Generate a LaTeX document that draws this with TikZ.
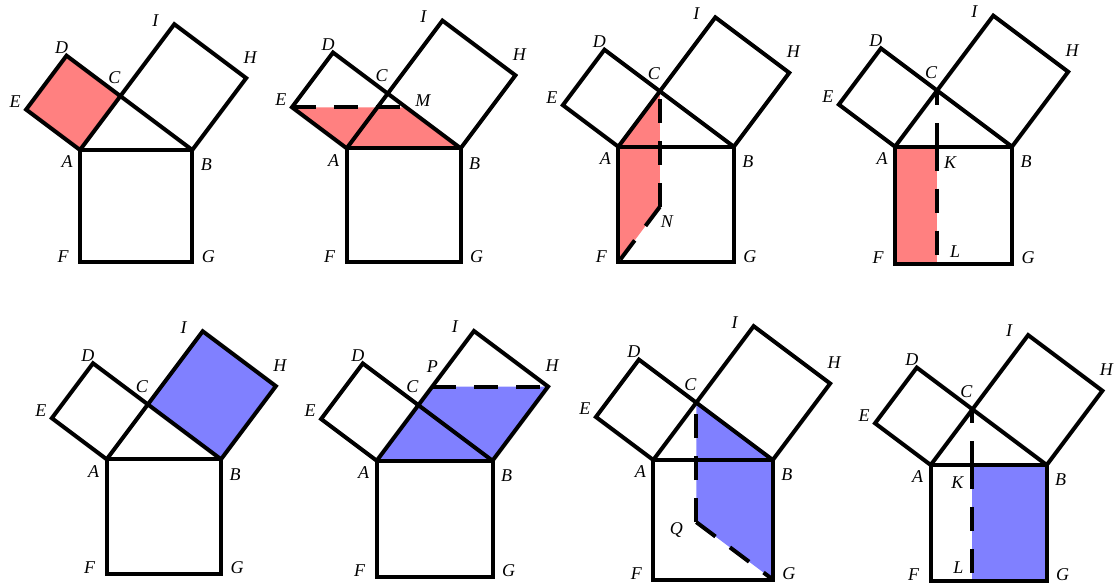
\documentclass[tikz,border=0pt]{standalone}
\usepackage{fontspec}
\setmainfont{Liberation Serif}
\definecolor{redA}{RGB}{255,128,128}
\definecolor{blueA}{RGB}{128,128,255}
\tikzset{
  edge/.style={line width=4pt, line join=miter},
  dashline/.style={line width=4pt, dash pattern=on 24pt off 18pt},
  redfill/.style={fill=redA, draw=none},
  bluefill/.style={fill=blueA, draw=none},
  lab/.style={font=\fontsize{18pt}{18pt}\selectfont\itshape, inner sep=0pt},
}
\newcommand\mypts{%
  \coordinate (A) at (0,0);
  \coordinate (B) at (5,0);
  \coordinate (C) at (1.8,2.4);
  \coordinate (D) at (-0.6,4.2);
  \coordinate (E) at (-2.4,1.8);
  \coordinate (F) at (0,-5);
  \coordinate (G) at (5,-5);
  \coordinate (H) at (7.4,3.2);
  \coordinate (I) at (4.2,5.6);
  \coordinate (K) at (1.8,0);
  \coordinate (L) at (1.8,-5);
  \coordinate (M) at (2.6,1.8);
  \coordinate (N) at (1.8,-2.6);
  \coordinate (P) at (2.4,3.2);
}
\newcommand\mybase{%
  \draw[edge] (A) -- (B) -- (G) -- (F) -- cycle;
  \draw[edge] (A) -- (C) -- (D) -- (E) -- cycle;
  \draw[edge] (C) -- (B) -- (H) -- (I) -- cycle;
  \node[lab, xshift=-13pt, yshift=-12pt] (lA) at (A) {A};
  \node[lab, xshift=14pt, yshift=-15pt] (lB) at (B) {B};
  \node[lab, xshift=-6pt, yshift=18pt] (lC) at (C) {C};
  \node[lab, xshift=-5pt, yshift=8pt] (lD) at (D) {D};
  \node[lab, xshift=-11pt, yshift=8pt] (lE) at (E) {E};
  \node[lab, xshift=-17pt, yshift=6pt] (lF) at (F) {F};
  \node[lab, xshift=16pt, yshift=6pt] (lG) at (G) {G};
  \node[lab, xshift=4pt, yshift=21pt] (lH) at (H) {H};
  \node[lab, xshift=-19pt, yshift=4pt] (lI) at (I) {I};
}
\begin{document}
\begin{tikzpicture}
\useasboundingbox (0pt,0pt) rectangle (1118pt,586pt);
% panel 1
\begin{scope}[shift={(80pt,436pt)}, x=22.46pt, y=22.46pt]
  \mypts
  \fill[redfill] (A) -- (C) -- (D) -- (E) -- cycle;
  \mybase
\end{scope}
% panel 2
\begin{scope}[shift={(346.7pt,437.7pt)}, x=22.8pt, y=22.8pt]
  \mypts
  \fill[redfill] (E) -- (M) -- (B) -- (A) -- cycle;
  \mybase
  \draw[dashline] (E) -- (M);
  \node[lab, xshift=17pt, yshift=7pt] (lM) at (M) {M};
\end{scope}
% panel 3
\begin{scope}[shift={(618.3pt,439.3pt)}, x=23.1pt, y=23.1pt]
  \mypts
  \fill[redfill] (A) -- (C) -- (N) -- (F) -- cycle;
  \mybase
  \draw[dashline] (N) -- (C);
  \draw[dashline] (N) -- (F);
  \node[lab, xshift=7pt, yshift=-15pt] (lN) at (N) {N};
\end{scope}
% panel 4
\begin{scope}[shift={(895pt,439.3pt)}, x=23.4pt, y=23.4pt]
  \mypts
  \fill[redfill] (A) -- (K) -- (L) -- (F) -- cycle;
  \mybase
  \draw[dashline] (K) -- (C);
  \draw[dashline] (K) -- (L);
  \node[lab, xshift=13pt, yshift=-16pt] (lK) at (K) {K};
  \node[lab, xshift=18pt, yshift=12pt] (lL) at (L) {L};
\end{scope}
% panel 5
\begin{scope}[shift={(106.7pt,126.7pt)}, x=22.86pt, y=22.86pt]
  \mypts
  \fill[bluefill] (C) -- (B) -- (H) -- (I) -- cycle;
  \mybase
\end{scope}
% panel 6
\begin{scope}[shift={(376.7pt,125.3pt)}, x=23.16pt, y=23.16pt]
  \mypts
  \fill[bluefill] (A) -- (B) -- (H) -- (P) -- cycle;
  \mybase
  \draw[dashline] (P) -- (H);
  \node[lab, xshift=0pt, yshift=20pt] (lP) at (P) {P};
\end{scope}
% panel 7
\begin{scope}[shift={(653.3pt,126pt)}, x=23.9pt, y=23.9pt]
  \mypts
  \coordinate (Q) at (1.8,-2.6);
  \fill[bluefill] (C) -- (B) -- (G) -- (Q) -- cycle;
  \mybase
  \draw[dashline] (Q) -- (C);
  \draw[dashline] (Q) -- (G);
  \node[lab, xshift=-20pt, yshift=-8pt] (lQ) at (Q) {Q};
\end{scope}
% panel 8
\begin{scope}[shift={(930.7pt,121pt)}, x=23.2pt, y=23.2pt]
  \mypts
  \fill[bluefill] (K) -- (B) -- (G) -- (L) -- cycle;
  \mybase
  \draw[dashline] (K) -- (C);
  \draw[dashline] (K) -- (L);
  \node[lab, xshift=-15pt, yshift=-18pt] (lK) at (K) {K};
  \node[lab, xshift=-14pt, yshift=13pt] (lL) at (L) {L};
\end{scope}
\end{tikzpicture}
\end{document}
